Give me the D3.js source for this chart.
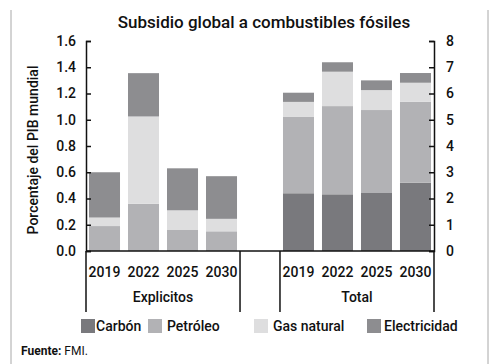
<!DOCTYPE html>
<html>
<head>
<meta charset="utf-8">
<script src="https://cdn.jsdelivr.net/npm/d3@7"></script>
<style>
  html, body { margin: 0; padding: 0; background: #fff; }
  svg { display: block; font-family: Roboto, "Noto Sans", sans-serif; }
</style>
</head>
<body>
<svg id="chart" width="500" height="364"></svg>
<script>
// ---- data ----
const groups = ["Explicitos", "Total"];
const years = ["2019", "2022", "2025", "2030"];
const seriesKeys = ["Carbón", "Petróleo", "Gas natural", "Electricidad"];
const explCarbon   = [0, 0, 0, 0];
const explPetroleo = [0.19, 0.36, 0.16, 0.15];
const explGas      = [0.065, 0.665, 0.15, 0.095];
const explElec     = [0.345, 0.33, 0.32, 0.325];
const totCarbon    = [2.2, 2.16, 2.21, 2.6];
const totPetroleo  = [2.92, 3.36, 3.16, 3.08];
const totGas       = [0.56, 1.31, 0.76, 0.73];
const totElec      = [0.35, 0.36, 0.37, 0.37];
const leftTicks  = [0, 0.2, 0.4, 0.6, 0.8, 1.0, 1.2, 1.4, 1.6];
const rightTicks = [0, 1, 2, 3, 4, 5, 6, 7, 8];

const colors = { "Carbón": "#79797d", "Petróleo": "#b2b2b5", "Gas natural": "#dededf", "Electricidad": "#8d8d90" };

function table(c, p, g, e) {
  return years.map((y, i) => ({ year: y, "Carbón": c[i], "Petróleo": p[i], "Gas natural": g[i], "Electricidad": e[i] }));
}
const dataByGroup = {
  "Explicitos": table(explCarbon, explPetroleo, explGas, explElec),
  "Total": table(totCarbon, totPetroleo, totGas, totElec)
};

const svg = d3.select("#chart");

// frame
svg.append("line").attr("x1", 11).attr("x2", 11).attr("y1", 10).attr("y2", 364).attr("stroke", "#a8a8a8").attr("stroke-width", 1);
svg.append("line").attr("x1", 488).attr("x2", 488).attr("y1", 10).attr("y2", 364).attr("stroke", "#a8a8a8").attr("stroke-width", 1);

// title
svg.append("text").attr("x", 264).attr("y", 28).attr("text-anchor", "middle")
  .attr("font-size", 17).attr("font-weight", 500).attr("fill", "#111")
  .text("Subsidio global a combustibles fósiles");

// scales
const x0 = d3.scaleBand().domain(groups).range([86, 434]).paddingInner(0.206).paddingOuter(0);
const x1 = d3.scaleBand().domain(years).range([0, x0.bandwidth()]).paddingInner(0.205).paddingOuter(0.077);
const yL = d3.scaleLinear().domain([0, 1.6]).range([251, 41]);
const yR = d3.scaleLinear().domain([0, 8]).range([251, 41]);
const yScales = { "Explicitos": yL, "Total": yR };

const stack = d3.stack().keys(seriesKeys);

groups.forEach(gname => {
  const ys = yScales[gname];
  const layers = stack(dataByGroup[gname]);
  const g = svg.append("g").attr("transform", `translate(${x0(gname)},0)`);
  layers.forEach(layer => {
    g.selectAll(null).data(layer).enter().append("rect")
      .attr("x", d => x1(d.data.year))
      .attr("width", x1.bandwidth())
      .attr("y", d => ys(d[1]))
      .attr("height", d => Math.max(0, ys(d[0]) - ys(d[1])))
      .attr("fill", colors[layer.key]);
  });
  // year labels
  g.selectAll(null).data(years).enter().append("text")
    .attr("x", d => x1(d) + x1.bandwidth() / 2)
    .attr("y", 277).attr("text-anchor", "middle")
    .attr("font-size", 14).attr("font-weight", 500).attr("fill", "#111")
    .text(d => d);
  // group label
  g.append("text").attr("x", x0.bandwidth() / 2).attr("y", 302).attr("text-anchor", "middle")
    .attr("font-size", 14).attr("font-weight", 500).attr("fill", "#111").text(gname);
});

// axes
const axL = svg.append("g").attr("transform", "translate(86,0)")
  .call(d3.axisLeft(yL).tickValues(leftTicks).tickSize(-5).tickPadding(10).tickFormat(d3.format(".1f")));
const axR = svg.append("g").attr("transform", "translate(434,0)")
  .call(d3.axisRight(yR).tickValues(rightTicks).tickSize(-5).tickPadding(12).tickFormat(d3.format("d")));
[axL, axR].forEach(a => {
  a.selectAll("path, line").attr("stroke", "#111").attr("stroke-width", 1.5);
  a.selectAll("text").attr("font-size", 14).attr("font-weight", 500).attr("fill", "#111")
    .attr("font-family", "Roboto, 'Noto Sans', sans-serif");
});

// baseline and separators
svg.append("line").attr("x1", 86).attr("x2", 434).attr("y1", yL(0)).attr("y2", yL(0)).attr("stroke", "#111").attr("stroke-width", 1.5);
const sepX = [x0("Explicitos"), x0("Explicitos") + x0.bandwidth(), x0("Total"), x0("Total") + x0.bandwidth()];
svg.selectAll(null).data(sepX).enter().append("line")
  .attr("x1", d => d).attr("x2", d => d).attr("y1", yL(0)).attr("y2", 312)
  .attr("stroke", "#111").attr("stroke-width", 1.5);

// y axis title
svg.append("text").attr("transform", "translate(38,150) rotate(-90)").attr("text-anchor", "middle")
  .attr("font-size", 14).attr("font-weight", 500).attr("fill", "#111").text("Porcentaje del PIB mundial");

// legend
const legendX = [81, 148, 254, 367];
const legendTextX = [96, 167, 273, 384];
const lg = svg.append("g");
seriesKeys.forEach((k, i) => {
  lg.append("rect").attr("x", legendX[i]).attr("y", 319).attr("width", 14).attr("height", 14).attr("fill", colors[k]);
  lg.append("text").attr("x", legendTextX[i]).attr("y", 331)
    .attr("font-size", 14).attr("font-weight", 500).attr("fill", "#111").text(k);
});

// source
const src = svg.append("text").attr("x", 21).attr("y", 355).attr("font-size", 12).attr("fill", "#111");
src.append("tspan").attr("font-weight", 700).text("Fuente:");
src.append("tspan").text(" FMI.");
</script>
</body>
</html>
